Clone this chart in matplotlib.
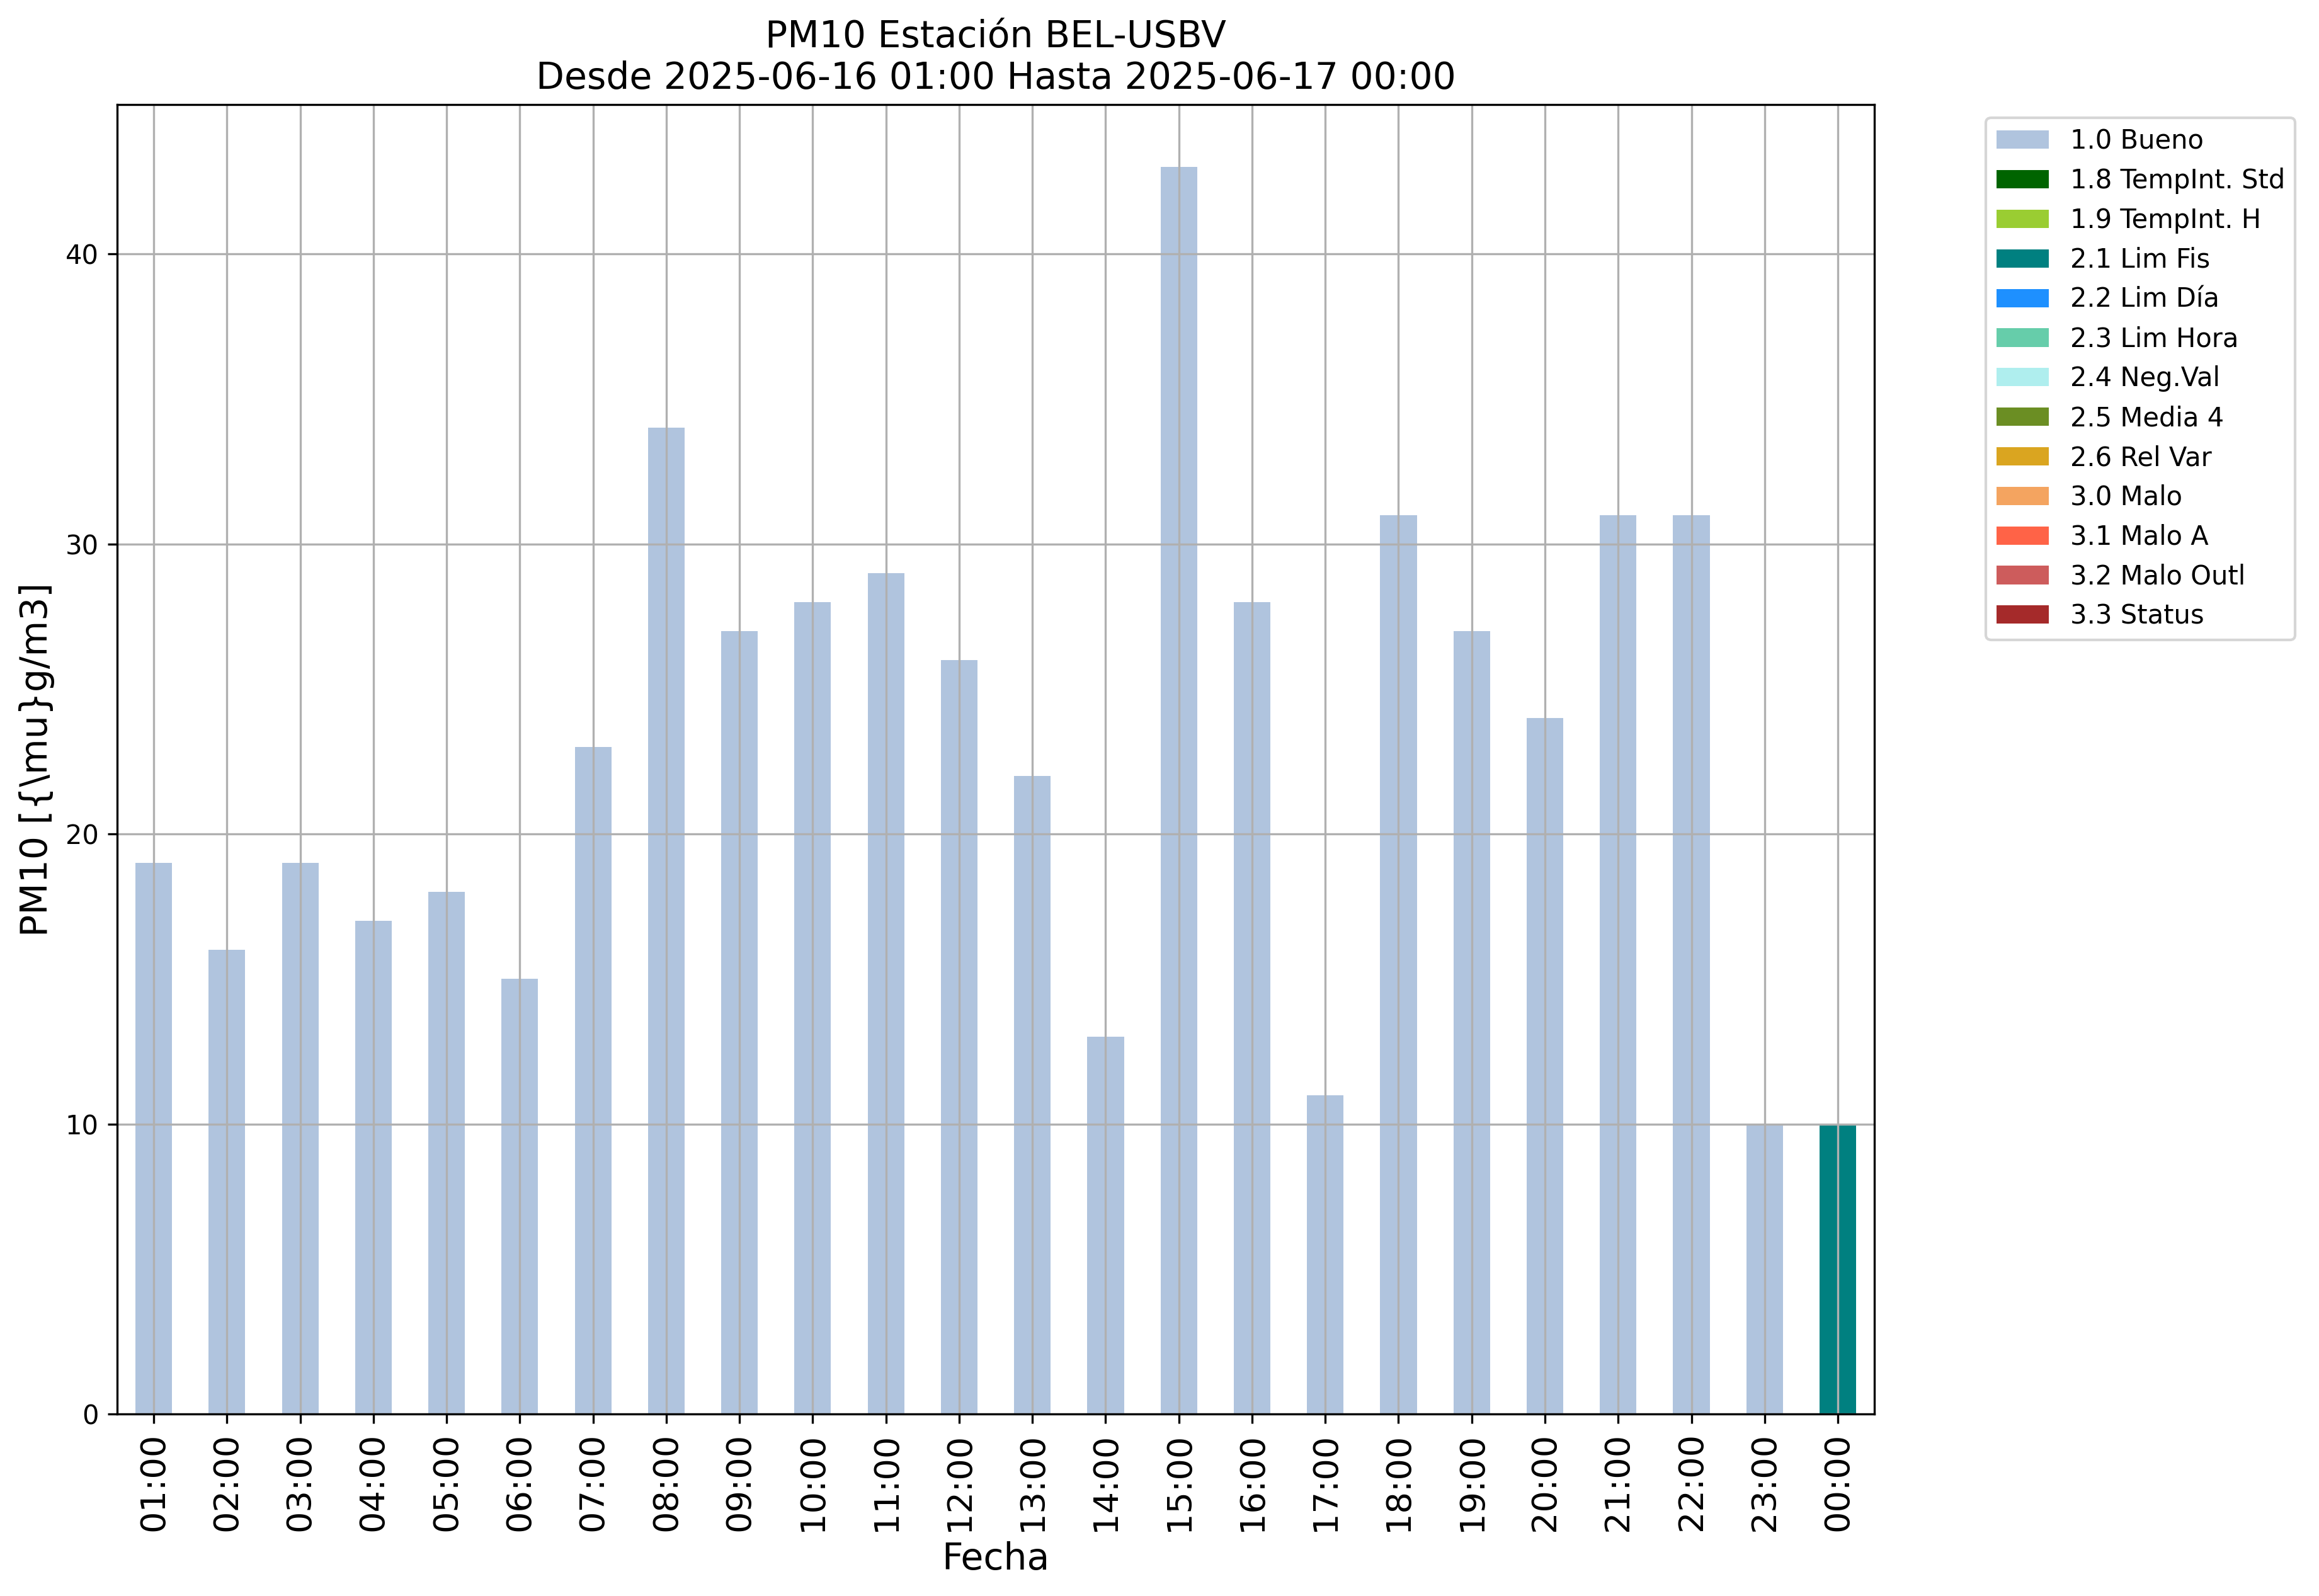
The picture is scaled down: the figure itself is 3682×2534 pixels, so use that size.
import numpy as np
import matplotlib
matplotlib.use("Agg")
import matplotlib.pyplot as plt
from matplotlib.ticker import MultipleLocator

# horas y valores PM10
horas = ['01:00', '02:00', '03:00', '04:00', '05:00', '06:00', '07:00', '08:00',
         '09:00', '10:00', '11:00', '12:00', '13:00', '14:00', '15:00', '16:00',
         '17:00', '18:00', '19:00', '20:00', '21:00', '22:00', '23:00', '00:00']
valores = [19, 16, 19, 17, 18, 15, 23, 34, 27, 28, 29, 26, 22, 13, 43, 28,
           11, 31, 27, 24, 31, 31, 10, 10]
flags = ['1.0 Bueno'] * 23 + ['2.1 Lim Fis']

categorias = ['1.0 Bueno', '1.8 TempInt. Std', '1.9 TempInt. H', '2.1 Lim Fis',
              '2.2 Lim Día', '2.3 Lim Hora', '2.4 Neg.Val', '2.5 Media 4',
              '2.6 Rel Var', '3.0 Malo', '3.1 Malo A', '3.2 Malo Outl', '3.3 Status']
colores = ['lightsteelblue', 'darkgreen', 'yellowgreen', 'teal', 'dodgerblue',
           'mediumaquamarine', 'paleturquoise', 'olivedrab', 'goldenrod',
           'sandybrown', 'tomato', 'indianred', 'brown']

fig, ax = plt.subplots(figsize=(3682 / 300, 2534 / 300), dpi=300)
fig.subplots_adjust(left=0.0505, right=0.8083, top=0.9345, bottom=0.114)

x = np.arange(len(horas))
base = np.zeros(len(horas))
for cat, col in zip(categorias, colores):
    alto = np.array([v if f == cat else 0 for v, f in zip(valores, flags)], dtype=float)
    ax.bar(x, alto, width=0.5, bottom=base, color=col, label=cat)
    base += alto

ax.set_xlim(-0.5, len(horas) - 0.5)
# margen de 5% como el autoescalado normal
ax.set_ylim(0, max(valores) * 1.05)
ax.yaxis.set_major_locator(MultipleLocator(10))
ax.set_xticks(x)
ax.set_xticklabels(horas, rotation=90, fontsize=13)
ax.grid(True)

ax.set_title('PM10 Estación BEL-USBV\nDesde 2025-06-16 01:00 Hasta 2025-06-17 00:00', fontsize=14)
ax.set_xlabel('Fecha', fontsize=14)
ax.set_ylabel(r'PM10 [{\mu}g/m3]', fontsize=14)
ax.legend(bbox_to_anchor=(1.056, 1), loc='upper left')

plt.savefig('out.png', dpi=300)
